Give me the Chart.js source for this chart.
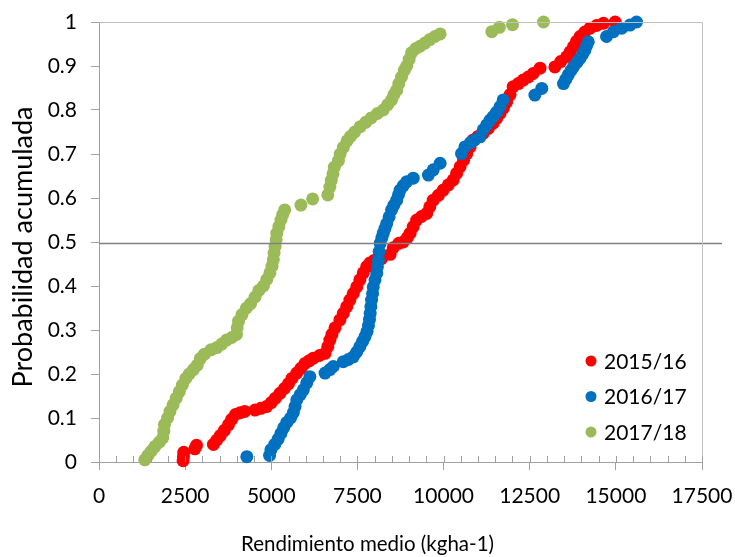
<!DOCTYPE html>
<html>
<head>
<meta charset="utf-8">
<script src="https://cdn.jsdelivr.net/npm/chart.js@4.4.1/dist/chart.umd.min.js"></script>
<style>
  html, body { margin: 0; padding: 0; background: #fff; }
  #wrap { width: 735px; height: 557px; }
</style>
</head>
<body>
<div id="wrap"><canvas id="grafico" width="735" height="557"></canvas></div>
<script>
// temporadas y colores de cada serie
const temporadas = ['2015/16', '2016/17', '2017/18'];
const colores = ['#FF0000', '#0070C0', '#9BBB59'];

// rendimiento medio (kg/ha) y probabilidad acumulada por temporada
const rend1516 = [2440, 2450, 2460, 2780, 2830, 3320, 3420, 3520, 3640, 3760, 3850, 3960, 4100, 4230, 4530, 4700, 4860, 5000, 5120, 5250,
  5380, 5500, 5600, 5740, 5860, 5980, 6100, 6220, 6400, 6560, 6640, 6700, 6760, 6850, 6990, 7090, 7190, 7280, 7380, 7480,
  7570, 7670, 7770, 7860, 7980, 8200, 8450, 8540, 8700, 8830, 8950, 9030, 9120, 9220, 9360, 9510, 9600, 9700, 9850, 9990,
  10140, 10280, 10380, 10480, 10580, 10670, 10770, 10860, 11000, 11150, 11300, 11440, 11540, 11640, 11740, 11830, 11930, 12020, 12170, 12310,
  12460, 12600, 12800, 13230, 13400, 13570, 13670, 13770, 13860, 13960, 14100, 14250, 14440, 14640, 14980];
const prob1516 = [0.003, 0.012, 0.022, 0.030, 0.038, 0.040, 0.050, 0.060, 0.072, 0.085, 0.097, 0.108, 0.112, 0.115, 0.118, 0.122, 0.126, 0.135, 0.145, 0.156,
  0.167, 0.178, 0.190, 0.202, 0.213, 0.224, 0.230, 0.236, 0.242, 0.247, 0.262, 0.277, 0.290, 0.305, 0.323, 0.338, 0.353, 0.368, 0.383, 0.398,
  0.414, 0.430, 0.444, 0.452, 0.458, 0.462, 0.472, 0.487, 0.497, 0.500, 0.510, 0.520, 0.535, 0.550, 0.558, 0.565, 0.580, 0.595, 0.606, 0.618,
  0.630, 0.641, 0.656, 0.671, 0.686, 0.700, 0.716, 0.732, 0.740, 0.747, 0.758, 0.770, 0.781, 0.792, 0.805, 0.818, 0.835, 0.853, 0.860, 0.868,
  0.875, 0.883, 0.895, 0.898, 0.910, 0.921, 0.932, 0.944, 0.956, 0.967, 0.977, 0.986, 0.992, 0.997, 1.000];

const rend1617 = [4290, 4950, 4990, 5100, 5200, 5280, 5360, 5450, 5560, 5640, 5690, 5740, 5840, 5930, 6030, 6120, 6560, 6700, 6800, 7090,
  7240, 7380, 7480, 7570, 7650, 7720, 7780, 7820, 7850, 7870, 7890, 7910, 7940, 7960, 8010, 8060, 8080, 8110, 8130, 8160,
  8210, 8250, 8300, 8350, 8420, 8490, 8560, 8640, 8690, 8740, 8830, 8930, 9120, 9560, 9700, 9900, 10520, 10620, 10780, 10900,
  11060, 11150, 11250, 11350, 11440, 11540, 11640, 11730, 12650, 12850, 13480, 13550, 13620, 13700, 13770, 13870, 13960, 14040, 14100, 14150,
  14200, 14730, 14930, 15170, 15410, 15600];
const prob1617 = [0.012, 0.015, 0.028, 0.040, 0.052, 0.065, 0.078, 0.090, 0.100, 0.112, 0.126, 0.141, 0.153, 0.164, 0.180, 0.194, 0.202, 0.210, 0.217, 0.228,
  0.233, 0.239, 0.250, 0.262, 0.274, 0.285, 0.297, 0.310, 0.324, 0.338, 0.353, 0.368, 0.383, 0.398, 0.414, 0.429, 0.444, 0.459, 0.478, 0.497,
  0.510, 0.520, 0.531, 0.542, 0.557, 0.573, 0.584, 0.595, 0.607, 0.618, 0.628, 0.637, 0.645, 0.652, 0.664, 0.679, 0.701, 0.716, 0.726, 0.732,
  0.739, 0.755, 0.766, 0.777, 0.785, 0.795, 0.808, 0.823, 0.834, 0.849, 0.860, 0.870, 0.880, 0.890, 0.898, 0.908, 0.917, 0.927, 0.936, 0.946,
  0.955, 0.967, 0.978, 0.986, 0.993, 1.000];

const rend1718 = [1330, 1420, 1520, 1620, 1750, 1850, 1880, 1900, 1990, 2060, 2150, 2240, 2330, 2420, 2520, 2620, 2740, 2850, 2940, 3060,
  3250, 3420, 3560, 3700, 3850, 3990, 4010, 4050, 4150, 4280, 4400, 4530, 4640, 4770, 4870, 4960, 5020, 5060, 5080, 5110,
  5140, 5160, 5220, 5280, 5330, 5390, 5860, 6200, 6640, 6700, 6740, 6790, 6830, 6950, 7000, 7090, 7200, 7300, 7420, 7580,
  7740, 7900, 8080, 8250, 8380, 8490, 8560, 8640, 8700, 8780, 8860, 8930, 9000, 9070, 9200, 9320, 9460, 9600, 9750, 9900,
  11400, 11620, 12000, 12900];
const prob1718 = [0.005, 0.015, 0.025, 0.035, 0.045, 0.055, 0.070, 0.085, 0.100, 0.115, 0.130, 0.145, 0.160, 0.175, 0.190, 0.200, 0.210, 0.220, 0.235, 0.245,
  0.255, 0.260, 0.268, 0.277, 0.283, 0.290, 0.305, 0.320, 0.335, 0.350, 0.360, 0.375, 0.390, 0.400, 0.415, 0.430, 0.445, 0.460, 0.475, 0.490,
  0.505, 0.520, 0.535, 0.550, 0.562, 0.573, 0.584, 0.598, 0.607, 0.625, 0.640, 0.655, 0.670, 0.685, 0.700, 0.715, 0.730, 0.740, 0.750, 0.762,
  0.772, 0.782, 0.792, 0.800, 0.812, 0.823, 0.835, 0.845, 0.860, 0.875, 0.890, 0.900, 0.915, 0.930, 0.940, 0.945, 0.952, 0.960, 0.967, 0.973,
  0.978, 0.988, 0.994, 1.000];

// marcas de los ejes
const ticksX = [0, 2500, 5000, 7500, 10000, 12500, 15000, 17500];
const ticksY = [0, 0.1, 0.2, 0.3, 0.4, 0.5, 0.6, 0.7, 0.8, 0.9, 1];
const pasoMenorX = 500;
const lineaMedia = 0.497;

const tituloX = 'Rendimiento medio (kgha-1)';
const tituloY = 'Probabilidad acumulada';

const rendimientos = [rend1516, rend1617, rend1718];
const probabilidades = [prob1516, prob1617, prob1718];

const fuente = 'Lato, "Open Sans", sans-serif';

function puntos(xs, ys) {
  let out = [];
  for (let i = 0; i < xs.length; i++) {
    out.push({x: xs[i], y: ys[i]});
  }
  return out;
}

// caja del grafico, marcas menores, linea de 0.5, titulos y leyenda
const extras = {
  id: 'extras',
  afterDatasetsDraw(chart) {
    const {ctx, chartArea, scales} = chart;
    const y = Math.round(scales.y.getPixelForValue(lineaMedia)) + 0.5;
    ctx.save();
    ctx.strokeStyle = '#808080';
    ctx.lineWidth = 1.5;
    ctx.beginPath();
    ctx.moveTo(chartArea.left, y);
    ctx.lineTo(chartArea.right + 20, y);
    ctx.stroke();
    ctx.restore();
  },
  afterDraw(chart) {
    const {ctx, chartArea, scales, width} = chart;
    const sx = scales.x;
    ctx.save();
    ctx.strokeStyle = '#BFBFBF';
    ctx.lineWidth = 1;
    ctx.beginPath();
    ctx.moveTo(chartArea.left + 0.5, chartArea.top + 0.5);
    ctx.lineTo(chartArea.right + 0.5, chartArea.top + 0.5);
    ctx.lineTo(chartArea.right + 0.5, chartArea.bottom);
    ctx.stroke();

    // marcas hacia dentro del eje x
    ctx.strokeStyle = '#A0A0A0';
    ctx.beginPath();
    for (let v = sx.min + pasoMenorX; v <= sx.max; v += pasoMenorX) {
      const px = Math.round(sx.getPixelForValue(v)) + 0.5;
      ctx.moveTo(px, chartArea.bottom);
      ctx.lineTo(px, chartArea.bottom - 6);
    }
    ctx.stroke();

    // titulos de los ejes
    ctx.fillStyle = '#000';
    ctx.textAlign = 'center';
    ctx.textBaseline = 'middle';
    ctx.font = '20.5px ' + fuente;
    ctx.fillText(tituloX, width / 2, 544);
    ctx.save();
    ctx.translate(23, 247);
    ctx.rotate(-Math.PI / 2);
    ctx.font = '27px ' + fuente;
    ctx.fillText(tituloY, 0, 0);
    ctx.restore();

    // leyenda
    ctx.font = '21px ' + fuente;
    ctx.textBaseline = 'middle';
    ctx.textAlign = 'left';
    chart.data.datasets.forEach((ds, i) => {
      const cy = 361 + i * 35.5;
      ctx.fillStyle = ds.backgroundColor;
      ctx.beginPath();
      ctx.arc(591, cy, 5.5, 0, Math.PI * 2);
      ctx.fill();
      ctx.fillStyle = '#000';
      ctx.fillText(ds.label, 604, cy + 1);
    });
    ctx.restore();
  }
};

new Chart(document.getElementById('grafico'), {
  type: 'scatter',
  data: {
    datasets: temporadas.map((t, i) => ({
      label: t,
      data: puntos(rendimientos[i], probabilidades[i]),
      backgroundColor: colores[i],
      borderColor: colores[i],
      borderWidth: 0,
      pointRadius: 6.5,
      pointHoverRadius: 6.5,
      clip: false,
      order: 3 - i
    }))
  },
  options: {
    responsive: false,
    animation: false,
    devicePixelRatio: 1,
    layout: { padding: { top: 22, right: 33, left: 0, bottom: 0 } },
    plugins: {
      legend: { display: false },
      tooltip: { enabled: false }
    },
    scales: {
      x: {
        type: 'linear',
        min: 0,
        max: 17500,
        afterBuildTicks: s => { s.ticks = ticksX.map(v => ({value: v})); },
        afterFit: s => { s.height = 95; s.paddingLeft = 0; s.paddingRight = 0; },
        border: { display: true, color: '#A0A0A0', width: 1 },
        grid: { display: true, drawOnChartArea: false, drawTicks: true, tickLength: 8, color: '#A0A0A0' },
        ticks: {
          color: '#000',
          font: { family: fuente, size: 21 },
          padding: 14,
          maxRotation: 0,
          autoSkip: false,
          callback: v => String(v)
        },
        title: { display: false }
      },
      y: {
        type: 'linear',
        min: 0,
        max: 1,
        afterBuildTicks: s => { s.ticks = ticksY.map(v => ({value: v})); },
        afterFit: s => { s.width = 99; s.paddingTop = 0; s.paddingBottom = 0; },
        border: { display: true, color: '#A0A0A0', width: 1 },
        grid: { display: true, drawOnChartArea: false, drawTicks: true, tickLength: 8, color: '#A0A0A0' },
        ticks: {
          color: '#000',
          font: { family: fuente, size: 21 },
          padding: 14,
          autoSkip: false,
          callback: v => String(v)
        },
        title: { display: false }
      }
    }
  },
  plugins: [extras]
});
</script>
</body>
</html>
